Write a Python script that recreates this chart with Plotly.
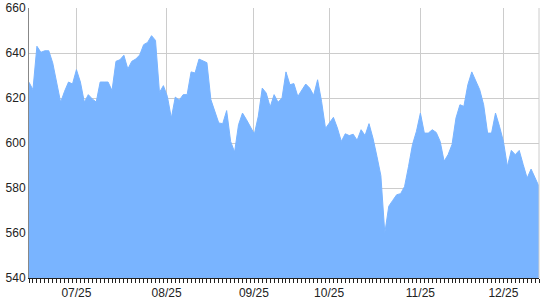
import plotly.graph_objects as go

# Series values (one per trading day)
values = [
    627.0, 623.7, 643.0, 640.3, 641.0, 641.0, 635.6, 627.4, 618.1, 623.0,
    627.1, 626.2, 632.6, 627.1, 618.1, 621.5, 619.6, 618.2, 627.1, 627.1,
    627.1, 623.3, 636.3, 637.0, 639.0, 632.9, 636.3, 637.3, 639.1, 643.7,
    644.7, 647.7, 645.6, 622.5, 625.5, 620.7, 611.1, 620.4, 619.0, 621.5,
    621.5, 631.6, 631.1, 637.3, 636.6, 635.7, 619.3, 614.1, 608.9, 608.6,
    614.4, 600.7, 596.0, 608.1, 613.3, 610.4, 607.0, 604.0, 611.9, 624.4,
    622.2, 616.0, 621.5, 618.1, 620.0, 631.6, 625.9, 626.4, 620.7, 623.7,
    626.2, 624.4, 621.2, 628.1, 618.5, 606.5, 608.9, 611.4, 606.7, 600.7,
    604.1, 603.3, 603.9, 601.2, 605.9, 603.3, 608.6, 602.2, 594.1, 585.5,
    560.0, 571.9, 574.5, 577.0, 577.5, 580.7, 589.6, 599.3, 605.2, 613.3,
    604.4, 604.4, 605.9, 604.7, 600.7, 591.9, 594.8, 599.3, 611.1, 617.0,
    616.3, 625.9, 631.6, 627.9, 623.7, 617.0, 604.4, 604.4, 613.3, 607.4,
    600.7, 589.6, 596.7, 594.8, 596.7, 590.4, 584.4, 588.4, 584.4, 580.7,
]
day_index = list(range(len(values)))

# Date labels and where they fall along the trading-day index
tick_labels = ["07/25", "08/25", "09/25", "10/25", "11/25", "12/25"]
tick_index = [12.0, 34.8, 56.9, 75.9, 99.0, 120.0]

y_ticks = [540, 560, 580, 600, 620, 640, 660]

fig = go.Figure()
fig.add_trace(go.Scatter(
    x=day_index, y=values, mode="lines",
    line=dict(color="rgb(121,180,255)", width=1),
    fill="tozeroy", fillcolor="rgb(121,180,255)",
    hoverinfo="skip", showlegend=False,
))

font = dict(family="Liberation Sans, Arial, sans-serif", size=12, color="#222")

fig.update_layout(
    width=540, height=300,
    margin=dict(l=29, r=1, t=8, b=22),
    paper_bgcolor="white", plot_bgcolor="white",
    font=font,
    xaxis=dict(
        range=[0, len(values) - 1],
        tickmode="array", tickvals=tick_index, ticktext=tick_labels,
        ticks="outside", ticklen=4, tickcolor="rgba(0,0,0,0)",
        showgrid=True, gridcolor="#cccccc", gridwidth=1,
        showline=True, linecolor="#222", linewidth=1,
        zeroline=False, tickfont=font,
        minor=dict(tickmode="linear", tick0=0, dtick=1, ticks="outside",
                   ticklen=4, tickcolor="#222", showgrid=False),
        layer="above traces",
    ),
    yaxis=dict(
        range=[540, 660], tickmode="array", tickvals=y_ticks,
        showgrid=True, gridcolor="#cccccc", gridwidth=1,
        showline=True, linecolor="#888", linewidth=1,
        zeroline=False, ticks="", tickfont=font,
    ),
    shapes=[dict(type="line", xref="paper", yref="paper", x0=1, x1=1, y0=0, y1=1,
                 line=dict(color="#cccccc", width=1))],
)

fig.write_html("out.html")
